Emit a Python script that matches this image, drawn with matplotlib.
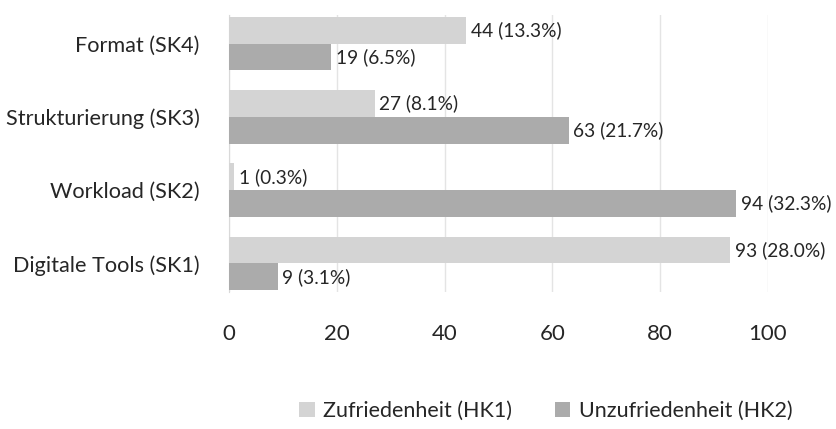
import matplotlib
matplotlib.use("Agg")
import matplotlib.pyplot as plt
import numpy as np

categories = ["Digitale Tools (SK1)", "Workload (SK2)", "Strukturierung (SK3)", "Format (SK4)"]
hk1_values = [93, 1, 27, 44]
hk1_pct = [28.0, 0.3, 8.1, 13.3]
hk2_values = [9, 94, 63, 19]
hk2_pct = [3.1, 32.3, 21.7, 6.5]
series_names = ["Zufriedenheit (HK1)", "Unzufriedenheit (HK2)"]
xticks = [0, 20, 40, 60, 80, 100]

plt.rcParams['font.family'] = ['Lato', 'DejaVu Sans']

fig = plt.figure(figsize=(8.36, 4.29), dpi=100)
ax = fig.add_axes([229/836, 1-292/429, (768-229)/836, (292-15)/429])

light = "#d4d4d4"
dark = "#ababab"
h = 0.365
y = np.arange(len(categories))
b1 = ax.barh(y + h/2, hk1_values, height=h, color=light, label=series_names[0], zorder=3)
b2 = ax.barh(y - h/2, hk2_values, height=h, color=dark, label=series_names[1], zorder=3)

for v, p, yy in zip(hk1_values, hk1_pct, y + h/2):
    ax.text(v + 0.9, yy, f"{v} ({p:.1f}%)", va="center", ha="left", fontsize=13.8, color="#262626")
for v, p, yy in zip(hk2_values, hk2_pct, y - h/2):
    ax.text(v + 0.9, yy, f"{v} ({p:.1f}%)", va="center", ha="left", fontsize=13.8, color="#262626")

ax.set_xlim(0, 100)
ax.set_ylim(-0.39, 3.39)
ax.set_xticks(xticks)
ax.set_xticklabels([str(t) for t in xticks], fontsize=16, color="#262626")
ax.set_yticks(y)
ax.set_yticklabels(categories, fontsize=15.6, color="#262626")
ax.tick_params(axis="x", length=0, pad=23)
ax.tick_params(axis="y", length=0, pad=21)
ax.grid(axis="x", color="#e4e4e4", linewidth=1, zorder=0)
for s in ["top", "right", "bottom"]:
    ax.spines[s].set_visible(False)
ax.spines["left"].set_color("#d9d9d9")

fig.legend(handles=[b1, b2], labels=series_names, loc="center", bbox_to_anchor=(546/836, 1-411/429),
           ncol=2, frameon=False, fontsize=15.5, handlelength=0.7, handleheight=0.7,
           handletextpad=0.4, columnspacing=2.0, labelcolor="#262626")

fig.savefig("out.png", dpi=100)
